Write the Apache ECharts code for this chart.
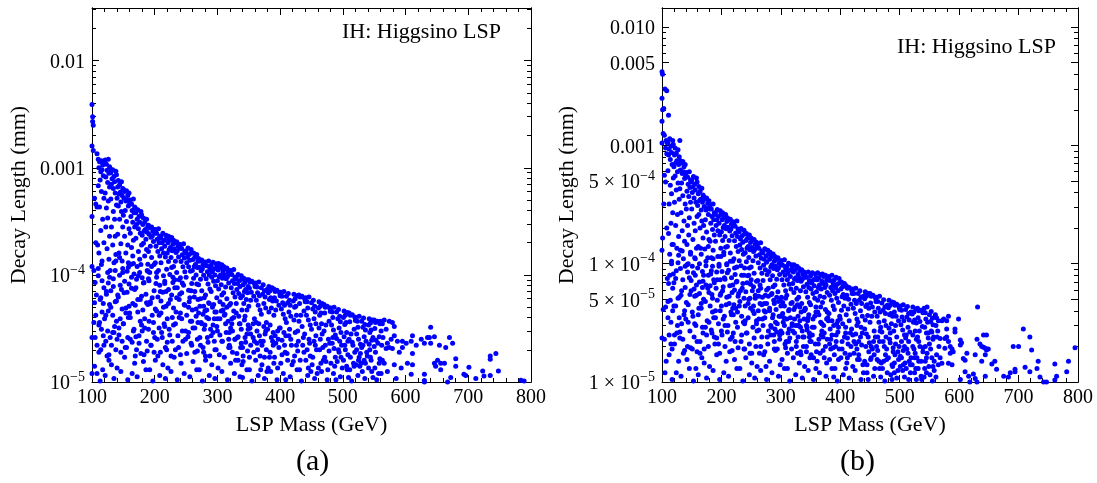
<!DOCTYPE html>
<html><head><meta charset="utf-8">
<script src="https://cdn.jsdelivr.net/npm/echarts@6/dist/echarts.min.js"></script>
<style>html,body{margin:0;padding:0;background:#fff}#c{width:1097px;height:483px}</style>
</head><body><div id="c"></div>
<script>
const massTickValues = [100,200,300,400,500,600,700,800];
const yMajorA = [1e-5,1e-4,1e-3,1e-2];
const yLabelA = ['10^−5','10^−4','0.001','0.01'];
const yMinorA = [2e-5,3e-5,4e-5,5e-5,6e-5,7e-5,8e-5,9e-5,2e-4,3e-4,4e-4,5e-4,6e-4,7e-4,8e-4,9e-4,2e-3,3e-3,4e-3,5e-3,6e-3,7e-3,8e-3,9e-3,2e-2,3e-2];
const yMajorB = [1e-5,5e-5,1e-4,5e-4,1e-3,5e-3,1e-2];
const yLabelB = ['1 × 10^−5','5 × 10^−5','1 × 10^−4','5 × 10^−4','0.001','0.005','0.010'];
const yMinorB = [2e-5,3e-5,4e-5,6e-5,7e-5,8e-5,9e-5,2e-4,3e-4,4e-4,6e-4,7e-4,8e-4,9e-4,2e-3,3e-3,4e-3,6e-3,7e-3,8e-3,9e-3];
const titleText = 'IH: Higgsino LSP';
const xName = 'LSP Mass (GeV)';
const yName = 'Decay Length (mm)';
const captions = ['(a)','(b)'];

// panel (a): [LSP mass (GeV), decay length (mm)]
const panelA = [
[100,3.9e-3],[101,3.0e-3],[101,2.7e-3],[102,2.5e-3],[100,1.6e-3],[102,1.45e-3],[108,1.35e-3],[100,3.5e-4],[104,5.2e-4],[106,4.6e-4],[108,4.3e-4],[106,2.0e-4],[109,1.9e-4],[100,1.2e-4],[103,1.1e-4],[105,8.5e-5],[107,6.5e-5],[104,5.5e-5],[106,4.2e-5],[103,3.6e-5],[105,2.6e-5],[100,2.6e-5],[108,2.2e-5],[104,1.4e-5],[108,1.2e-5],[100,1.2e-5],
[110,1.2e-3],[112,1.14e-3],[115,1.16e-3],[117,1.06e-3],[119,1.1e-3],[111,1.0e-3],[114,9.2e-4],[116,9.6e-4],[118,8.4e-4],[113,7.7e-4],[110,6.8e-4],[115,6.0e-4],[119,5.2e-4],[112,4.3e-4],[117,3.3e-4],[114,2.6e-4],[119,2.0e-4],[111,1.6e-4],[116,1.35e-4],[113,1.02e-5],[117,1.3e-5],[111,1.9e-5],[119,2.2e-5],[115,3.1e-5],[112,3.6e-5],[118,5.4e-5],[114,6.1e-5],[116,8.8e-5],[110,1.15e-4],
[121,1.18e-3],[123,1.08e-3],[126,1.2e-3],[128,1.02e-3],[120,1.09e-3],[124,9.5e-4],[127,8.9e-4],[129,9.8e-4],[122,8.2e-4],[125,7.3e-4],[128,6.6e-4],[121,5.8e-4],[126,4.9e-4],[123,4.2e-4],[125,3.4e-4],[122,2.8e-4],[128,2.3e-4],[124,1.75e-4],[127,1.4e-4],[121,1.15e-5],[127,1.6e-5],[124,1.75e-5],[129,2.6e-5],[122,4.2e-5],[126,4.6e-5],[123,7.0e-5],[128,9.5e-5],[125,1.05e-4],
[130,9.0e-4],[133,9.6e-4],[135,8.3e-4],[138,9.3e-4],[132,7.9e-4],[136,7.4e-4],[139,8.6e-4],[131,7.0e-4],[134,6.4e-4],[137,5.8e-4],[130,5.1e-4],[139,4.5e-4],[134,3.9e-4],[136,3.3e-4],[131,2.8e-4],[137,2.3e-4],[133,1.9e-4],[138,1.55e-4],[135,1.3e-4],[135,1.08e-5],[131,1.45e-5],[138,2.0e-5],[133,2.9e-5],[136,3.3e-5],[130,5.0e-5],[139,5.7e-5],[134,7.8e-5],[137,1.1e-4],
[142,7.6e-4],[144,6.9e-4],[147,7.4e-4],[149,6.4e-4],[141,6.6e-4],[145,5.9e-4],[148,5.5e-4],[140,5.2e-4],[143,5.7e-4],[146,4.8e-4],[142,4.4e-4],[147,3.9e-4],[144,3.3e-4],[149,2.8e-4],[141,2.4e-4],[146,1.95e-4],[143,1.6e-4],[148,1.35e-4],[146,1.25e-5],[140,1.35e-5],[148,2.4e-5],[143,2.75e-5],[145,3.9e-5],[141,6.5e-5],[147,7.3e-5],[144,9.9e-5],[149,1.15e-4],
[150,6.3e-4],[152,6.0e-4],[155,6.1e-4],[157,5.5e-4],[159,5.8e-4],[151,5.2e-4],[154,4.9e-4],[156,5.0e-4],[158,4.4e-4],[153,4.0e-4],[150,3.6e-4],[155,3.15e-4],[159,2.7e-4],[152,2.3e-4],[157,1.9e-4],[154,1.6e-4],[158,1.3e-4],[157,1.05e-5],[152,1.7e-5],[155,2.1e-5],[150,3.5e-5],[158,4.0e-5],[154,4.9e-5],[151,6.8e-5],[159,8.2e-5],[156,1.08e-4],
[161,5.0e-4],[163,4.6e-4],[166,5.1e-4],[168,4.3e-4],[160,4.6e-4],[164,4.0e-4],[167,3.8e-4],[169,4.2e-4],[162,3.5e-4],[165,3.1e-4],[168,2.8e-4],[161,2.45e-4],[166,2.1e-4],[163,1.8e-4],[165,1.5e-4],[162,1.25e-4],[164,1.2e-5],[168,1.5e-5],[161,2.5e-5],[166,3.0e-5],[160,4.4e-5],[169,5.2e-5],[163,7.5e-5],[167,1.02e-4],
[170,3.8e-4],[173,4.05e-4],[175,3.5e-4],[178,3.9e-4],[172,3.3e-4],[176,3.1e-4],[179,3.65e-4],[171,2.95e-4],[174,2.7e-4],[177,2.45e-4],[170,2.2e-4],[179,1.9e-4],[174,1.65e-4],[176,1.4e-4],[172,1.2e-4],[172,1.12e-5],[178,1.85e-5],[175,2.3e-5],[170,2.65e-5],[177,3.7e-5],[173,5.9e-5],[179,6.3e-5],[171,9.1e-5],[176,1.05e-4],
[182,3.4e-4],[184,3.1e-4],[187,3.3e-4],[189,2.85e-4],[181,2.95e-4],[185,2.65e-4],[188,2.5e-4],[180,2.35e-4],[183,2.55e-4],[186,2.15e-4],[182,1.97e-4],[187,1.73e-4],[184,1.5e-4],[189,1.26e-4],[186,1.3e-5],[182,1.55e-5],[188,1.95e-5],[184,3.2e-5],[181,4.7e-5],[187,5.5e-5],[183,8.5e-5],[189,1.08e-4],[180,9.4e-5],
[190,2.9e-4],[192,2.75e-4],[195,2.8e-4],[197,2.55e-4],[199,2.65e-4],[191,2.4e-4],[194,2.25e-4],[196,2.3e-4],[198,2.05e-4],[193,1.85e-4],[190,1.65e-4],[195,1.45e-4],[199,1.25e-4],[192,1.05e-4],[197,1.02e-5],[192,1.3e-5],[199,1.9e-5],[194,2.2e-5],[190,3.1e-5],[198,3.6e-5],[193,5.4e-5],[196,6.1e-5],[191,8.8e-5],
[201,2.65e-4],[203,2.45e-4],[206,2.7e-4],[208,2.3e-4],[200,2.45e-4],[204,2.15e-4],[207,2.0e-4],[209,2.2e-4],[202,1.85e-4],[205,1.65e-4],[208,1.5e-4],[201,1.3e-4],[206,1.1e-4],[203,9.5e-5],[208,1.15e-5],[201,1.6e-5],[205,1.75e-5],[200,2.6e-5],[207,4.2e-5],[203,4.6e-5],[209,7.0e-5],[202,8.3e-5],
[210,2.3e-4],[213,2.45e-4],[215,2.1e-4],[218,2.35e-4],[212,2.0e-4],[216,1.85e-4],[219,2.2e-4],[211,1.75e-4],[214,1.6e-4],[217,1.47e-4],[210,1.3e-4],[219,1.13e-4],[214,9.8e-5],[216,8.3e-5],[217,1.08e-5],[213,1.45e-5],[219,2.0e-5],[211,2.9e-5],[216,3.3e-5],[214,5.0e-5],[210,5.7e-5],[218,7.0e-5],
[222,2.3e-4],[224,2.1e-4],[227,2.23e-4],[229,1.93e-4],[221,2.0e-4],[225,1.8e-4],[228,1.68e-4],[220,1.6e-4],[223,1.72e-4],[226,1.45e-4],[222,1.33e-4],[227,1.17e-4],[224,1.01e-4],[229,8.5e-5],[226,1.25e-5],[221,1.35e-5],[228,2.4e-5],[224,2.75e-5],[220,3.9e-5],[227,6.5e-5],[222,7.3e-5],
[230,2.1e-4],[232,2.0e-4],[235,2.04e-4],[237,1.85e-4],[239,1.93e-4],[231,1.74e-4],[234,1.62e-4],[236,1.68e-4],[238,1.47e-4],[233,1.34e-4],[230,1.2e-4],[235,1.05e-4],[239,9.0e-5],[232,7.6e-5],[236,1.05e-5],[231,1.7e-5],[238,2.1e-5],[233,3.5e-5],[239,4.0e-5],[230,4.9e-5],[235,6.1e-5],
[241,1.91e-4],[243,1.76e-4],[246,1.95e-4],[248,1.66e-4],[240,1.77e-4],[244,1.54e-4],[247,1.44e-4],[249,1.6e-4],[242,1.33e-4],[245,1.19e-4],[248,1.07e-4],[241,9.4e-5],[246,8.0e-5],[243,6.8e-5],[247,1.2e-5],[242,1.5e-5],[249,2.5e-5],[244,3.0e-5],[241,4.4e-5],[248,5.2e-5],
[250,1.67e-4],[253,1.78e-4],[255,1.55e-4],[258,1.73e-4],[252,1.46e-4],[256,1.37e-4],[259,1.6e-4],[251,1.3e-4],[254,1.19e-4],[257,1.08e-4],[250,9.5e-5],[259,8.3e-5],[254,7.2e-5],[256,6.1e-5],[256,1.12e-5],[251,1.85e-5],[258,2.3e-5],[253,2.65e-5],[259,3.7e-5],[254,5.0e-5],
[262,1.6e-4],[264,1.46e-4],[267,1.55e-4],[269,1.34e-4],[261,1.39e-4],[265,1.25e-4],[268,1.17e-4],[260,1.1e-4],[263,1.2e-4],[266,1.0e-4],[262,9.3e-5],[267,8.2e-5],[264,7.0e-5],[269,5.9e-5],[267,1.3e-5],[261,1.55e-5],[268,1.95e-5],[264,3.2e-5],[260,4.7e-5],[266,4.1e-5],
[270,1.42e-4],[272,1.35e-4],[275,1.38e-4],[277,1.25e-4],[279,1.31e-4],[271,1.18e-4],[274,1.09e-4],[276,1.14e-4],[278,9.9e-5],[273,9.1e-5],[270,8.1e-5],[275,7.1e-5],[279,6.1e-5],[272,5.1e-5],[276,1.02e-5],[271,1.3e-5],[278,1.9e-5],[273,2.2e-5],[279,3.1e-5],[274,3.6e-5],[277,4.3e-5],
[281,1.32e-4],[283,1.22e-4],[286,1.35e-4],[288,1.15e-4],[280,1.23e-4],[284,1.07e-4],[287,1.0e-4],[289,1.11e-4],[282,9.2e-5],[285,8.2e-5],[288,7.4e-5],[281,6.5e-5],[286,5.5e-5],[283,4.7e-5],[287,1.15e-5],[281,1.6e-5],[288,1.75e-5],[284,2.6e-5],[280,3.4e-5],[286,3.9e-5],
[290,1.23e-4],[293,1.31e-4],[295,1.14e-4],[298,1.27e-4],[292,1.07e-4],[296,1.0e-4],[299,1.17e-4],[291,9.5e-5],[294,8.7e-5],[297,7.9e-5],[290,7.0e-5],[299,6.1e-5],[294,5.3e-5],[296,4.5e-5],[296,1.08e-5],[291,1.45e-5],[298,2.0e-5],[293,2.9e-5],[299,3.3e-5],[295,3.9e-5],
[302,1.28e-4],[304,1.16e-4],[307,1.24e-4],[309,1.08e-4],[301,1.11e-4],[305,1.0e-4],[308,9.3e-5],[300,8.8e-5],[303,9.6e-5],[306,8.1e-5],[302,7.4e-5],[307,6.5e-5],[304,5.6e-5],[309,4.7e-5],[307,1.25e-5],[301,1.35e-5],[308,2.4e-5],[304,2.75e-5],[300,3.9e-5],
[310,1.2e-4],[312,1.14e-4],[315,1.16e-4],[317,1.06e-4],[319,1.1e-4],[311,1.0e-4],[314,9.2e-5],[316,9.6e-5],[318,8.4e-5],[313,7.7e-5],[310,6.8e-5],[315,6.0e-5],[319,5.2e-5],[312,4.3e-5],[316,1.05e-5],[311,1.7e-5],[318,2.1e-5],[313,3.5e-5],[319,2.9e-5],
[321,1.1e-4],[323,1.01e-4],[326,1.12e-4],[328,9.5e-5],[320,1.02e-4],[324,8.8e-5],[327,8.3e-5],[329,9.2e-5],[322,7.6e-5],[325,6.8e-5],[328,6.2e-5],[321,5.4e-5],[326,4.6e-5],[323,3.9e-5],[327,1.2e-5],[321,1.5e-5],[328,2.5e-5],[324,3.0e-5],[320,2.1e-5],
[330,9.5e-5],[333,1.01e-4],[335,8.8e-5],[338,9.8e-5],[332,8.3e-5],[336,7.8e-5],[339,9.1e-5],[331,7.3e-5],[334,6.7e-5],[337,6.1e-5],[330,5.4e-5],[339,4.7e-5],[334,4.1e-5],[336,3.5e-5],[336,1.12e-5],[331,1.85e-5],[338,2.3e-5],[333,2.65e-5],[339,1.45e-5],
[342,9.3e-5],[344,8.5e-5],[347,9.0e-5],[349,7.8e-5],[341,8.1e-5],[345,7.3e-5],[348,6.8e-5],[340,6.4e-5],[343,7.0e-5],[346,5.9e-5],[342,5.4e-5],[347,4.7e-5],[344,4.1e-5],[349,3.4e-5],[347,1.3e-5],[341,1.55e-5],[348,1.95e-5],[344,2.6e-5],[340,1.1e-5],
[350,9.0e-5],[352,8.6e-5],[355,8.7e-5],[359,8.3e-5],[351,7.5e-5],[354,6.9e-5],[358,6.3e-5],[353,5.8e-5],[350,5.1e-5],[359,3.9e-5],[352,3.2e-5],[355,1.02e-5],[351,1.3e-5],[358,1.9e-5],[353,2.2e-5],[357,2.6e-5],
[361,8.4e-5],[363,7.7e-5],[366,8.6e-5],[360,7.8e-5],[364,6.8e-5],[367,6.4e-5],[362,5.8e-5],[365,5.2e-5],[368,4.7e-5],[366,3.5e-5],[363,3.0e-5],[365,1.15e-5],[361,1.6e-5],[368,1.75e-5],[363,2.3e-5],[369,1.3e-5],
[370,7.6e-5],[373,8.1e-5],[375,7.1e-5],[372,6.6e-5],[376,6.2e-5],[379,7.3e-5],[374,5.4e-5],[377,4.9e-5],[370,4.3e-5],[374,3.3e-5],[376,2.8e-5],[375,1.08e-5],[371,1.45e-5],[378,2.0e-5],[373,2.4e-5],[379,1.25e-5],
[382,7.8e-5],[384,7.1e-5],[387,7.6e-5],[381,6.8e-5],[385,6.1e-5],[388,5.7e-5],[383,5.9e-5],[386,4.9e-5],[382,4.5e-5],[384,3.4e-5],[389,2.9e-5],[385,1.25e-5],[381,1.35e-5],[388,2.4e-5],[383,1.7e-5],
[390,7.4e-5],[392,7.0e-5],[395,7.2e-5],[399,6.8e-5],[391,6.1e-5],[394,5.7e-5],[398,5.2e-5],[393,4.7e-5],[390,4.2e-5],[399,3.2e-5],[392,2.7e-5],[395,1.05e-5],[391,1.7e-5],[398,2.1e-5],[396,1.35e-5],
[401,6.9e-5],[403,6.3e-5],[406,7.0e-5],[400,6.4e-5],[404,5.5e-5],[407,5.2e-5],[402,4.8e-5],[405,4.3e-5],[408,3.9e-5],[406,2.9e-5],[403,2.45e-5],[405,1.2e-5],[401,1.5e-5],[408,1.9e-5],[409,1.05e-5],
[410,6.3e-5],[413,6.7e-5],[415,5.8e-5],[412,5.5e-5],[416,5.2e-5],[414,4.5e-5],[417,4.1e-5],[410,3.6e-5],[414,2.7e-5],[416,1.12e-5],[411,1.85e-5],[418,2.2e-5],[419,1.45e-5],
[422,6.6e-5],[424,6.0e-5],[427,6.4e-5],[421,5.7e-5],[425,5.1e-5],[423,5.0e-5],[426,4.2e-5],[422,3.8e-5],[424,2.9e-5],[427,1.3e-5],[421,1.55e-5],[428,1.95e-5],[429,2.4e-5],
[430,6.5e-5],[432,6.2e-5],[435,6.3e-5],[439,6.0e-5],[431,5.4e-5],[438,4.6e-5],[433,4.2e-5],[430,3.7e-5],[439,2.8e-5],[434,1.02e-5],[431,1.3e-5],[438,1.9e-5],[436,2.2e-5],
[441,6.1e-5],[443,5.6e-5],[446,6.2e-5],[440,5.6e-5],[444,4.9e-5],[442,4.2e-5],[445,3.8e-5],[448,3.4e-5],[446,2.5e-5],[444,1.15e-5],[441,1.6e-5],[448,1.75e-5],[449,1.25e-5],
[450,5.5e-5],[453,5.8e-5],[455,5.1e-5],[452,4.8e-5],[456,4.5e-5],[454,3.9e-5],[457,3.5e-5],[450,3.1e-5],[454,2.4e-5],[455,1.08e-5],[451,1.45e-5],[458,2.0e-5],[459,1.2e-5],
[462,5.6e-5],[464,5.1e-5],[467,5.4e-5],[461,4.9e-5],[465,4.4e-5],[463,4.2e-5],[466,3.5e-5],[462,3.2e-5],[464,2.5e-5],[466,1.25e-5],[461,1.35e-5],[468,2.1e-5],[469,1.6e-5],
[470,5.3e-5],[472,5.0e-5],[475,5.1e-5],[479,4.9e-5],[471,4.4e-5],[478,3.7e-5],[473,3.4e-5],[470,3.0e-5],[479,2.3e-5],[475,1.05e-5],[471,1.7e-5],[478,1.95e-5],[476,1.3e-5],
[481,4.9e-5],[483,4.5e-5],[486,5.0e-5],[480,4.55e-5],[484,4.0e-5],[482,3.4e-5],[485,3.05e-5],[488,2.75e-5],[486,2.05e-5],[485,1.2e-5],[481,1.5e-5],[488,1.7e-5],[489,1.05e-5],
[490,4.5e-5],[493,4.75e-5],[495,4.1e-5],[492,3.9e-5],[496,3.65e-5],[494,3.2e-5],[497,2.9e-5],[490,2.55e-5],[494,1.9e-5],[496,1.12e-5],[491,1.55e-5],[498,2.2e-5],[499,1.35e-5],
[502,4.6e-5],[504,4.2e-5],[507,4.45e-5],[501,4.0e-5],[505,3.6e-5],[503,3.45e-5],[506,2.9e-5],[502,2.65e-5],[504,2.0e-5],[507,1.3e-5],[501,1.6e-5],[508,1.8e-5],[509,1.1e-5],
[510,4.4e-5],[512,4.2e-5],[515,4.25e-5],[519,4.05e-5],[511,3.65e-5],[518,3.1e-5],[513,2.8e-5],[510,2.5e-5],[519,1.9e-5],[514,1.02e-5],[511,1.3e-5],[517,1.5e-5],[516,2.2e-5],
[521,4.0e-5],[523,3.7e-5],[526,4.1e-5],[520,3.75e-5],[524,3.25e-5],[522,2.8e-5],[525,2.5e-5],[528,2.25e-5],[526,1.7e-5],[524,1.15e-5],[521,1.45e-5],[527,1.4e-5],[529,1.5e-5],
[530,3.7e-5],[533,3.95e-5],[535,3.45e-5],[532,3.25e-5],[536,3.05e-5],[534,2.65e-5],[537,2.4e-5],[530,2.1e-5],[534,1.6e-5],[535,1.08e-5],[531,1.25e-5],[538,1.9e-5],
[542,3.9e-5],[544,3.55e-5],[547,3.8e-5],[541,3.4e-5],[545,3.05e-5],[543,2.9e-5],[546,2.45e-5],[542,2.25e-5],[544,1.7e-5],[546,1.25e-5],[541,1.35e-5],[548,1.1e-5],
[550,3.8e-5],[552,3.6e-5],[555,3.7e-5],[559,3.5e-5],[551,3.15e-5],[558,2.65e-5],[553,2.45e-5],[550,2.15e-5],[559,1.65e-5],[554,1.05e-5],[551,1.35e-5],[557,1.2e-5],
[560,3.7e-5],[563,3.5e-5],[561,3.0e-5],[564,2.6e-5],[562,2.2e-5],[563,1.6e-5],[561,1.2e-5],
[566,3.8e-5],[574,3.7e-5],[579,3.6e-5],[569,3.1e-5],[582,3.3e-5],[571,2.3e-5],[577,2.5e-5],[582,2.7e-5],[574,2.1e-5],[587,2.4e-5],[579,2.05e-5],[569,2.05e-5],[595,2.4e-5],[595,2.1e-5],[601,2.3e-5],[609,2.4e-5],[611,2.7e-5],[590,1.9e-5],[611,1.85e-5],[617,2.2e-5],[625,2.5e-5],[630,2.3e-5],[635,2.6e-5],[640,2.3e-5],[638,2.6e-5],[646,2.65e-5],[640,3.25e-5],[654,2.2e-5],[664,2.1e-5],[670,2.6e-5],[675,2.3e-5],[566,1.5e-5],[571,1.25e-5],[582,1.45e-5],[593,1.35e-5],[603,1.5e-5],[611,1.45e-5],[609,1.18e-5],[585,1.08e-5],[630,1.18e-5],[630,1.03e-5],[646,1.5e-5],[651,1.6e-5],[648,1.4e-5],[656,1.5e-5],[662,1.5e-5],[656,1.3e-5],[672,1.1e-5],[680,1.65e-5],[680,1.4e-5],[693,1.18e-5],[696,1.15e-5],[701,1.37e-5],[712,1.08e-5],[723,1.27e-5],[725,1.14e-5],[735,1.75e-5],[735,1.63e-5],[744,1.85e-5],[735,1.15e-5],[748,1.27e-5],[784,1.04e-5],[789,1.02e-5],[667,1.0e-5],[630,1.0e-5],
[114,2.0e-5],[118,2.7e-5],[111,3.4e-5],[116,4.5e-5],[113,5.9e-5],[119,7.6e-5],[110,9.8e-5],[115,1.25e-4],
[127,1.8e-5],[122,2.4e-5],[125,3.0e-5],[120,3.9e-5],[128,5.3e-5],[123,6.6e-5],[126,8.4e-5],[129,1.1e-4],
[131,2.2e-5],[135,2.9e-5],[139,3.7e-5],[133,4.2e-5],[137,5.6e-5],[130,7.1e-5],[134,9.2e-5],[138,1.35e-4],
[146,1.9e-5],[140,2.5e-5],[143,3.2e-5],[148,4.8e-5],[142,6.2e-5],[145,8.0e-5],[149,1.05e-4],[144,1.45e-4],
[153,2.1e-5],[157,2.6e-5],[150,3.5e-5],[154,4.4e-5],[159,5.1e-5],[156,6.9e-5],[152,8.7e-5],[158,1.18e-4],
[169,1.75e-5],[164,2.35e-5],[167,3.1e-5],[161,4.0e-5],[165,5.4e-5],[168,7.3e-5],[163,9.5e-5],[166,1.28e-4],
[171,2.0e-5],[175,2.7e-5],[179,3.4e-5],[173,4.5e-5],[177,5.9e-5],[170,7.6e-5],[174,9.8e-5],[178,1.25e-4],
[183,1.8e-5],[187,2.4e-5],[180,3.0e-5],[184,3.9e-5],[189,5.3e-5],[186,6.6e-5],[182,8.4e-5],[188,1.1e-4],
[194,2.2e-5],[198,2.9e-5],[191,3.7e-5],[196,4.2e-5],[193,5.6e-5],[199,7.1e-5],[190,9.2e-5],[195,1.2e-4],
[209,1.9e-5],[204,2.5e-5],[207,3.2e-5],[201,4.8e-5],[205,6.2e-5],[208,8.0e-5],[203,1.05e-4],
[217,2.1e-5],[212,2.6e-5],[215,3.5e-5],[210,4.4e-5],[218,5.1e-5],[213,6.9e-5],[216,8.7e-5],
[226,1.75e-5],[220,2.35e-5],[223,3.1e-5],[228,4.0e-5],[222,5.4e-5],[225,5.9e-5],[229,9.5e-5],
[233,2.0e-5],[237,2.7e-5],[230,3.4e-5],[234,4.5e-5],[239,5.9e-5],[236,7.6e-5],[232,9.0e-5],
[241,1.8e-5],[245,2.4e-5],[249,3.0e-5],[243,3.9e-5],[247,5.3e-5],[240,6.6e-5],[244,8.4e-5],
[259,2.2e-5],[254,2.9e-5],[257,3.7e-5],[251,4.2e-5],[255,5.6e-5],[258,7.1e-5],
[264,1.9e-5],[268,2.5e-5],[261,3.2e-5],[266,4.8e-5],[263,6.2e-5],[269,3.6e-5],
[277,2.1e-5],[272,2.6e-5],[275,3.5e-5],[270,4.4e-5],[278,5.1e-5],[273,6.0e-5],
[281,1.75e-5],[285,2.35e-5],[289,3.1e-5],[283,4.0e-5],[287,5.4e-5],[280,4.6e-5],
[296,2.0e-5],[290,2.7e-5],[293,3.4e-5],[298,4.5e-5],[292,5.0e-5],[295,2.4e-5],
[303,1.8e-5],[307,2.4e-5],[300,3.0e-5],[304,3.9e-5],[309,5.3e-5],[306,4.6e-5],
[319,2.2e-5],[314,2.9e-5],[317,3.7e-5],[311,4.2e-5],[315,5.0e-5],[318,2.5e-5],
[324,1.9e-5],[328,2.5e-5],[321,3.2e-5],[326,4.0e-5],[323,3.5e-5],[329,1.6e-5],
[337,2.1e-5],[332,2.6e-5],[335,3.5e-5],[330,4.4e-5],[338,3.1e-5],[333,1.6e-5],
[341,1.75e-5],[345,2.35e-5],[349,3.1e-5],[343,3.8e-5],[347,2.8e-5],[340,2.1e-5],
[353,2.8e-5],[357,3.5e-5],[351,1.7e-5],[359,2.4e-5],[364,2.0e-5],[367,2.7e-5],[362,3.6e-5],[369,2.4e-5],
[371,2.2e-5],[377,3.0e-5],[375,1.7e-5],[378,3.6e-5],[384,1.9e-5],[386,2.6e-5],[380,3.1e-5],[389,2.2e-5],
[393,2.3e-5],[396,3.0e-5],[390,1.5e-5],[397,2.5e-5],[403,1.8e-5],[407,2.2e-5],[400,3.2e-5],[409,2.7e-5],
[412,1.6e-5],[417,2.5e-5],[415,3.1e-5],[423,1.75e-5],[426,2.2e-5],[428,3.0e-5],[432,1.6e-5],[437,2.6e-5],[435,3.3e-5],
[443,2.0e-5],[447,2.3e-5],[445,1.35e-5],[452,1.7e-5],[457,2.7e-5],[456,2.2e-5],[463,2.0e-5],[467,2.8e-5],[465,1.5e-5],
[472,2.2e-5],[477,2.5e-5],[473,1.55e-5],[483,2.3e-5],[487,1.4e-5],[484,2.6e-5],[493,2.0e-5],[495,2.4e-5],[497,1.7e-5],
[503,2.2e-5],[506,1.4e-5],[508,2.4e-5],[512,1.7e-5],[515,2.35e-5],[518,1.4e-5],[522,2.0e-5],[525,1.6e-5],[528,1.85e-5],
[532,2.2e-5],[536,1.5e-5],[539,1.75e-5],[543,2.0e-5],[545,1.6e-5],[548,2.6e-5],[552,1.9e-5],[556,2.3e-5],[558,1.5e-5]
];

// panel (b): [LSP mass (GeV), decay length (mm)]
const panelB = [
[100,4.2e-3],[101,4.0e-3],[108,2.9e-3],[105,3.0e-3],[100,2.5e-3],[101,2.0e-3],[103,2.05e-3],[111,1.8e-3],[100,1.6e-3],[102,1.26e-3],[104,1.22e-3],[100,1.05e-3],[107,1.1e-3],[109,1.05e-3],[106,9.5e-4],[108,8.5e-4],[104,5.6e-4],[106,4.9e-4],[108,2.0e-4],[100,1.3e-4],[102,4.1e-5],[106,4.3e-5],[100,2.35e-5],[107,1.5e-5],[105,1.2e-5],[101,1.65e-4],[103,3.2e-4],[109,7.5e-5],[104,2.3e-5],
[110,1.07e-3],[113,1.14e-3],[115,9.9e-4],[118,1.1e-3],[112,9.3e-4],[116,8.7e-4],[119,1.02e-3],[111,8.3e-4],[114,7.6e-4],[117,6.9e-4],[110,6.1e-4],[119,5.3e-4],[114,4.6e-4],[116,3.9e-4],[112,3.2e-4],[118,2.7e-4],[115,2.2e-4],[111,1.8e-4],[117,1.45e-4],[113,1.2e-4],[117,1.05e-5],[112,1.7e-5],[115,2.1e-5],[110,3.5e-5],[118,4.0e-5],[114,4.9e-5],[111,6.8e-5],[119,8.2e-5],[116,1.0e-4],
[122,9.5e-4],[124,8.6e-4],[127,9.2e-4],[129,8.0e-4],[121,8.3e-4],[125,7.4e-4],[128,6.9e-4],[120,6.6e-4],[123,7.1e-4],[126,6.0e-4],[122,5.5e-4],[127,4.8e-4],[124,4.2e-4],[129,3.5e-4],[121,3.3e-4],[126,2.6e-4],[123,2.1e-4],[128,1.7e-4],[125,1.35e-4],[124,1.2e-5],[128,1.5e-5],[121,2.5e-5],[126,3.0e-5],[120,4.4e-5],[129,5.2e-5],[123,7.5e-5],[127,1.02e-4],
[130,1.1e-3],[130,7.5e-4],[132,7.1e-4],[135,7.3e-4],[137,6.6e-4],[139,6.9e-4],[131,6.2e-4],[134,5.8e-4],[136,6.0e-4],[138,5.25e-4],[133,4.8e-4],[130,4.3e-4],[135,3.75e-4],[139,3.2e-4],[132,2.7e-4],[137,2.3e-4],[134,1.9e-4],[138,1.55e-4],[131,1.3e-4],[136,1.1e-4],[132,1.12e-5],[138,1.85e-5],[135,2.3e-5],[130,2.65e-5],[137,3.7e-5],[133,5.9e-5],[139,6.3e-5],[131,9.1e-5],
[141,5.9e-4],[143,5.4e-4],[146,6.0e-4],[148,5.1e-4],[140,5.5e-4],[144,4.7e-4],[147,4.4e-4],[149,4.9e-4],[142,4.1e-4],[145,3.7e-4],[148,3.3e-4],[141,2.9e-4],[146,2.45e-4],[143,2.1e-4],[145,1.75e-4],[142,1.45e-4],[148,1.2e-4],[144,1.0e-4],[146,1.3e-5],[142,1.55e-5],[148,1.95e-5],[144,3.2e-5],[141,4.7e-5],[147,5.5e-5],[143,8.5e-5],[149,7.2e-5],
[150,5.1e-4],[153,5.45e-4],[155,4.7e-4],[158,5.3e-4],[152,4.45e-4],[156,4.2e-4],[159,4.9e-4],[151,4.0e-4],[154,3.6e-4],[157,3.3e-4],[150,2.9e-4],[159,2.5e-4],[154,2.2e-4],[156,1.9e-4],[152,1.6e-4],[158,1.35e-4],[155,1.12e-4],[151,9.5e-5],[153,1.02e-5],[157,1.3e-5],[151,1.9e-5],[159,2.2e-5],[155,3.1e-5],[152,3.6e-5],[158,5.4e-5],[154,6.1e-5],[156,8.0e-5],
[162,4.5e-4],[164,4.1e-4],[167,4.35e-4],[169,3.8e-4],[161,3.9e-4],[165,3.5e-4],[168,3.3e-4],[160,3.1e-4],[163,3.4e-4],[166,2.85e-4],[162,2.6e-4],[167,2.3e-4],[164,2.0e-4],[169,1.65e-4],[161,1.4e-4],[166,1.2e-4],[163,1.0e-4],[168,8.6e-5],[161,1.15e-5],[167,1.6e-5],[164,1.75e-5],[169,2.6e-5],[162,4.2e-5],[166,4.6e-5],[163,7.0e-5],[168,6.3e-5],
[170,3.7e-4],[172,3.5e-4],[175,3.6e-4],[177,3.25e-4],[179,3.4e-4],[171,3.05e-4],[174,2.85e-4],[176,2.95e-4],[178,2.6e-4],[173,2.35e-4],[170,2.1e-4],[175,1.85e-4],[179,1.6e-4],[172,1.33e-4],[177,1.12e-4],[174,9.6e-5],[178,8.0e-5],[175,1.08e-5],[171,1.45e-5],[178,2.0e-5],[173,2.9e-5],[176,3.3e-5],[170,5.0e-5],[179,5.7e-5],[174,6.6e-5],
[181,3.15e-4],[183,2.9e-4],[186,3.2e-4],[188,2.7e-4],[180,2.9e-4],[184,2.5e-4],[187,2.35e-4],[189,2.6e-4],[182,2.2e-4],[185,1.95e-4],[188,1.75e-4],[181,1.55e-4],[186,1.3e-4],[183,1.12e-4],[185,9.5e-5],[182,8.2e-5],[186,1.25e-5],[180,1.35e-5],[188,2.4e-5],[183,2.75e-5],[185,3.9e-5],[181,6.5e-5],[187,7.3e-5],[184,5.5e-5],
[190,2.7e-4],[193,2.87e-4],[195,2.5e-4],[198,2.8e-4],[192,2.35e-4],[196,2.2e-4],[199,2.6e-4],[191,2.1e-4],[194,1.9e-4],[197,1.75e-4],[190,1.55e-4],[199,1.35e-4],[194,1.15e-4],[196,9.9e-5],[192,8.5e-5],[198,7.3e-5],[197,1.05e-5],[192,1.7e-5],[195,2.1e-5],[190,3.5e-5],[198,4.0e-5],[193,4.9e-5],[191,6.2e-5],[199,5.6e-5],
[202,2.7e-4],[204,2.45e-4],[207,2.6e-4],[209,2.27e-4],[201,2.35e-4],[205,2.1e-4],[208,1.97e-4],[200,1.86e-4],[203,2.02e-4],[206,1.7e-4],[202,1.57e-4],[207,1.38e-4],[204,1.19e-4],[209,1.0e-4],[201,8.6e-5],[206,7.4e-5],[203,6.4e-5],[204,1.2e-5],[208,1.5e-5],[201,2.5e-5],[206,3.0e-5],[200,4.4e-5],[209,5.2e-5],[205,3.6e-5],
[210,2.45e-4],[212,2.33e-4],[215,2.38e-4],[217,2.16e-4],[219,2.25e-4],[211,2.03e-4],[214,1.89e-4],[216,1.96e-4],[218,1.72e-4],[213,1.57e-4],[210,1.4e-4],[215,1.23e-4],[219,1.05e-4],[212,8.8e-5],[217,7.6e-5],[214,6.5e-5],[218,5.7e-5],[212,1.12e-5],[218,1.85e-5],[215,2.3e-5],[210,2.65e-5],[217,3.7e-5],[213,4.6e-5],[219,4.2e-5],
[221,2.25e-4],[223,2.07e-4],[226,2.3e-4],[228,1.96e-4],[220,2.09e-4],[224,1.82e-4],[227,1.7e-4],[229,1.89e-4],[222,1.56e-4],[225,1.4e-4],[228,1.27e-4],[221,1.1e-4],[226,9.4e-5],[223,8.1e-5],[225,7.0e-5],[222,6.0e-5],[228,5.3e-5],[226,1.3e-5],[222,1.55e-5],[228,1.95e-5],[224,3.2e-5],[221,4.5e-5],[227,3.9e-5],[220,2.6e-5],
[230,1.86e-4],[233,1.98e-4],[235,1.72e-4],[238,1.92e-4],[232,1.62e-4],[236,1.52e-4],[239,1.78e-4],[231,1.44e-4],[234,1.32e-4],[237,1.2e-4],[230,1.06e-4],[239,9.2e-5],[234,8.0e-5],[236,6.8e-5],[232,5.9e-5],[238,5.1e-5],[236,1.02e-5],[231,1.3e-5],[238,1.9e-5],[233,2.2e-5],[239,3.1e-5],[234,3.6e-5],[230,4.4e-5],
[242,1.8e-4],[244,1.64e-4],[247,1.75e-4],[249,1.51e-4],[241,1.57e-4],[245,1.4e-4],[248,1.31e-4],[240,1.24e-4],[243,1.35e-4],[246,1.13e-4],[242,1.04e-4],[247,9.2e-5],[244,7.9e-5],[249,6.7e-5],[241,5.8e-5],[246,5.0e-5],[247,1.15e-5],[241,1.6e-5],[248,1.75e-5],[243,2.6e-5],[249,4.2e-5],[245,4.6e-5],[240,3.3e-5],
[250,1.65e-4],[252,1.57e-4],[255,1.6e-4],[257,1.45e-4],[259,1.52e-4],[251,1.37e-4],[254,1.27e-4],[256,1.32e-4],[258,1.16e-4],[253,1.06e-4],[250,9.4e-5],[255,8.3e-5],[259,7.1e-5],[252,5.9e-5],[257,5.1e-5],[254,4.4e-5],[256,1.08e-5],[251,1.45e-5],[258,2.0e-5],[253,2.9e-5],[259,3.3e-5],[255,3.8e-5],
[261,1.47e-4],[263,1.35e-4],[266,1.5e-4],[268,1.28e-4],[260,1.37e-4],[264,1.19e-4],[267,1.11e-4],[269,1.23e-4],[262,1.02e-4],[265,9.2e-5],[268,8.3e-5],[261,7.2e-5],[266,6.2e-5],[263,5.3e-5],[265,4.6e-5],[262,4.0e-5],[266,1.25e-5],[260,1.35e-5],[268,2.4e-5],[263,2.75e-5],[269,3.4e-5],[264,1.75e-5],
[270,1.26e-4],[273,1.34e-4],[275,1.16e-4],[278,1.3e-4],[272,1.09e-4],[276,1.03e-4],[279,1.2e-4],[271,9.7e-5],[274,8.9e-5],[277,8.1e-5],[270,7.2e-5],[279,6.2e-5],[274,5.4e-5],[276,4.6e-5],[272,4.0e-5],[276,1.05e-5],[271,1.7e-5],[278,2.1e-5],[273,3.5e-5],[279,2.7e-5],[275,1.35e-5],
[282,1.25e-4],[284,1.14e-4],[287,1.21e-4],[289,1.05e-4],[281,1.09e-4],[285,9.8e-5],[288,9.1e-5],[280,8.6e-5],[283,9.4e-5],[286,7.9e-5],[282,7.3e-5],[287,6.4e-5],[284,5.5e-5],[289,4.6e-5],[281,4.0e-5],[286,3.5e-5],[285,1.2e-5],[281,1.5e-5],[288,2.5e-5],[283,3.0e-5],[289,1.9e-5],
[290,1.15e-4],[292,1.09e-4],[295,1.12e-4],[297,1.01e-4],[299,1.06e-4],[291,9.5e-5],[294,8.9e-5],[296,9.2e-5],[298,8.1e-5],[293,7.4e-5],[290,6.6e-5],[295,5.8e-5],[299,4.9e-5],[292,4.1e-5],[297,3.6e-5],[296,1.12e-5],[291,1.85e-5],[298,2.3e-5],[293,2.65e-5],[299,1.4e-5],[294,3.1e-5],
[301,1.06e-4],[303,9.7e-5],[306,1.08e-4],[308,9.2e-5],[300,9.8e-5],[304,8.5e-5],[307,8.0e-5],[309,8.9e-5],[302,7.3e-5],[305,6.6e-5],[308,5.9e-5],[301,5.2e-5],[306,4.4e-5],[303,3.8e-5],[306,1.3e-5],[302,1.55e-5],[308,1.95e-5],[304,3.2e-5],[300,2.7e-5],[309,2.2e-5],
[310,9.5e-5],[313,1.01e-4],[315,8.8e-5],[318,9.8e-5],[312,8.3e-5],[316,7.8e-5],[319,9.1e-5],[311,7.3e-5],[314,6.7e-5],[317,6.1e-5],[310,5.4e-5],[319,4.7e-5],[314,4.1e-5],[316,3.5e-5],[315,1.02e-5],[311,1.3e-5],[318,1.9e-5],[313,2.2e-5],[319,3.0e-5],[312,2.6e-5],
[322,9.8e-5],[324,8.9e-5],[327,9.5e-5],[329,8.2e-5],[321,8.5e-5],[325,7.6e-5],[328,7.2e-5],[320,6.8e-5],[323,7.4e-5],[326,6.2e-5],[322,5.7e-5],[327,5.0e-5],[324,4.3e-5],[329,3.6e-5],[325,1.15e-5],[321,1.6e-5],[328,1.75e-5],[323,2.6e-5],[329,3.0e-5],[326,2.2e-5],
[330,9.2e-5],[332,8.7e-5],[335,8.9e-5],[337,8.1e-5],[339,8.5e-5],[331,7.6e-5],[334,7.1e-5],[336,7.4e-5],[338,6.4e-5],[333,5.9e-5],[330,5.2e-5],[335,4.6e-5],[339,4.0e-5],[332,3.3e-5],[336,1.08e-5],[331,1.45e-5],[338,2.0e-5],[333,2.9e-5],[339,2.4e-5],[334,1.7e-5],
[341,8.3e-5],[343,7.7e-5],[346,8.5e-5],[348,7.2e-5],[340,7.7e-5],[344,6.7e-5],[347,6.3e-5],[349,7.0e-5],[342,5.8e-5],[345,5.2e-5],[348,4.7e-5],[341,4.1e-5],[346,3.5e-5],[343,3.0e-5],[346,1.25e-5],[340,1.35e-5],[348,2.4e-5],[343,2.0e-5],[349,1.6e-5],[344,2.75e-5],
[350,7.9e-5],[353,8.4e-5],[355,7.3e-5],[358,8.2e-5],[352,6.9e-5],[356,6.5e-5],[359,7.6e-5],[351,6.1e-5],[354,5.6e-5],[357,5.1e-5],[350,4.5e-5],[359,3.9e-5],[354,3.4e-5],[356,2.9e-5],[355,1.05e-5],[351,1.7e-5],[358,2.1e-5],[353,2.5e-5],[359,1.3e-5],
[362,8.4e-5],[364,7.6e-5],[367,8.1e-5],[369,7.1e-5],[361,7.3e-5],[365,6.6e-5],[368,6.1e-5],[360,5.8e-5],[363,6.3e-5],[366,5.3e-5],[362,4.9e-5],[367,4.3e-5],[364,3.7e-5],[369,3.1e-5],[365,1.2e-5],[361,1.5e-5],[368,2.5e-5],[363,2.1e-5],[366,1.75e-5],
[370,8.2e-5],[372,7.8e-5],[375,8.0e-5],[377,7.2e-5],[379,7.5e-5],[371,6.8e-5],[374,6.3e-5],[376,6.6e-5],[378,5.7e-5],[373,5.2e-5],[370,4.7e-5],[375,4.1e-5],[379,3.5e-5],[372,3.0e-5],[376,1.12e-5],[371,1.85e-5],[378,2.3e-5],[373,2.6e-5],[377,1.45e-5],
[381,7.8e-5],[383,7.2e-5],[386,8.0e-5],[388,6.8e-5],[380,7.3e-5],[384,6.3e-5],[387,5.9e-5],[389,6.6e-5],[382,5.4e-5],[385,4.9e-5],[388,4.4e-5],[381,3.8e-5],[386,3.3e-5],[383,2.8e-5],[386,1.3e-5],[382,1.55e-5],[388,1.95e-5],[384,2.3e-5],[389,1.1e-5],
[390,7.3e-5],[393,7.7e-5],[395,6.7e-5],[398,7.5e-5],[392,6.3e-5],[396,5.9e-5],[399,6.9e-5],[391,5.6e-5],[394,5.1e-5],[397,4.7e-5],[390,4.1e-5],[399,3.6e-5],[394,3.1e-5],[396,2.65e-5],[395,1.02e-5],[391,1.3e-5],[398,1.9e-5],[393,2.2e-5],[397,1.55e-5],
[402,7.0e-5],[404,6.4e-5],[407,6.8e-5],[401,6.1e-5],[405,5.5e-5],[408,5.1e-5],[403,5.25e-5],[406,4.4e-5],[402,4.05e-5],[404,3.1e-5],[409,2.6e-5],[405,1.15e-5],[401,1.6e-5],[408,1.75e-5],[403,2.2e-5],[409,1.3e-5],
[410,6.5e-5],[412,6.2e-5],[415,6.3e-5],[419,6.0e-5],[411,5.4e-5],[414,5.0e-5],[418,4.55e-5],[413,4.15e-5],[410,3.7e-5],[419,2.8e-5],[412,2.35e-5],[415,1.08e-5],[411,1.45e-5],[418,2.0e-5],[416,1.7e-5],
[421,6.1e-5],[423,5.6e-5],[426,6.2e-5],[420,5.6e-5],[424,4.9e-5],[427,4.6e-5],[422,4.2e-5],[425,3.8e-5],[428,3.4e-5],[426,2.55e-5],[423,2.2e-5],[425,1.25e-5],[421,1.35e-5],[428,1.9e-5],[429,1.55e-5],
[430,5.6e-5],[433,5.9e-5],[435,5.2e-5],[432,4.9e-5],[436,4.6e-5],[439,5.3e-5],[434,4.0e-5],[437,3.6e-5],[430,3.2e-5],[434,2.4e-5],[436,2.05e-5],[435,1.05e-5],[431,1.7e-5],[438,1.4e-5],[439,1.2e-5],
[442,5.8e-5],[444,5.3e-5],[447,5.6e-5],[441,5.05e-5],[445,4.5e-5],[448,4.2e-5],[443,4.35e-5],[446,3.65e-5],[442,3.35e-5],[444,2.55e-5],[449,2.15e-5],[445,1.2e-5],[441,1.5e-5],[448,1.8e-5],[447,1.05e-5],
[450,5.6e-5],[452,5.3e-5],[455,5.4e-5],[459,5.15e-5],[451,4.65e-5],[454,4.3e-5],[458,3.9e-5],[453,3.6e-5],[450,3.2e-5],[459,2.4e-5],[452,2.0e-5],[456,1.12e-5],[451,1.55e-5],[458,1.3e-5],[457,1.7e-5],
[461,5.2e-5],[463,4.8e-5],[466,5.3e-5],[460,4.8e-5],[464,4.2e-5],[467,3.9e-5],[462,3.6e-5],[465,3.2e-5],[468,2.9e-5],[466,2.2e-5],[463,1.85e-5],[466,1.3e-5],[462,1.55e-5],[468,1.1e-5],[469,1.45e-5],
[470,4.65e-5],[473,4.95e-5],[475,4.3e-5],[472,4.05e-5],[476,3.8e-5],[479,4.45e-5],[474,3.3e-5],[477,3.0e-5],[470,2.65e-5],[474,2.0e-5],[476,1.7e-5],[475,1.02e-5],[471,1.3e-5],[478,1.55e-5],[479,1.2e-5],
[482,4.9e-5],[484,4.45e-5],[487,4.75e-5],[481,4.25e-5],[485,3.8e-5],[488,3.6e-5],[483,3.7e-5],[486,3.1e-5],[482,2.85e-5],[484,2.15e-5],[489,1.8e-5],[485,1.15e-5],[481,1.6e-5],[488,1.35e-5],[487,1.05e-5],
[490,4.7e-5],[492,4.45e-5],[495,4.55e-5],[499,4.3e-5],[491,3.9e-5],[494,3.6e-5],[498,3.3e-5],[493,3.0e-5],[490,2.7e-5],[499,2.0e-5],[492,1.7e-5],[495,1.08e-5],[491,1.45e-5],[497,1.25e-5],[498,1.55e-5],
[501,4.4e-5],[503,4.05e-5],[506,4.5e-5],[500,4.1e-5],[504,3.55e-5],[507,3.3e-5],[502,3.05e-5],[505,2.75e-5],[508,2.5e-5],[506,1.85e-5],[503,1.6e-5],[505,1.25e-5],[501,1.35e-5],[508,1.1e-5],[509,1.45e-5],
[510,4.1e-5],[513,4.35e-5],[515,3.8e-5],[512,3.55e-5],[516,3.35e-5],[519,3.9e-5],[514,2.9e-5],[517,2.65e-5],[510,2.35e-5],[514,1.75e-5],[516,1.5e-5],[515,1.05e-5],[511,1.3e-5],[518,1.2e-5],[519,1.6e-5],
[522,4.3e-5],[524,3.9e-5],[527,4.15e-5],[521,3.75e-5],[525,3.35e-5],[528,3.15e-5],[523,3.2e-5],[526,2.7e-5],[522,2.5e-5],[524,1.9e-5],[529,1.6e-5],[525,1.2e-5],[521,1.4e-5],[528,1.05e-5],[527,1.3e-5],
[530,4.2e-5],[532,4.0e-5],[535,4.05e-5],[539,3.85e-5],[531,3.5e-5],[534,3.25e-5],[538,2.95e-5],[533,2.7e-5],[530,2.4e-5],[539,1.8e-5],[532,1.5e-5],[536,1.12e-5],[531,1.3e-5],[537,1.05e-5],
[541,4.2e-5],[543,3.85e-5],[546,4.3e-5],[540,3.9e-5],[544,3.4e-5],[547,3.2e-5],[542,2.9e-5],[545,2.6e-5],[548,2.35e-5],[546,1.75e-5],[543,1.5e-5],[545,1.2e-5],[541,1.1e-5],[549,1.35e-5],
[550,3.7e-5],[553,3.95e-5],[555,3.45e-5],[552,3.25e-5],[556,3.05e-5],[559,3.55e-5],[554,2.65e-5],[557,2.4e-5],[550,2.1e-5],[554,1.6e-5],[556,1.35e-5],[555,1.02e-5],[551,1.15e-5],[558,1.25e-5],
[560,3.7e-5],[562,3.5e-5],[565,3.3e-5],[561,3.0e-5],[564,2.7e-5],[563,2.4e-5],[566,2.0e-5],[562,1.7e-5],[565,1.4e-5],[561,1.1e-5],
[568,2.33e-5],[576,2.33e-5],[571,3.3e-5],[574,3.4e-5],[579,3.3e-5],[582,3.6e-5],[579,2.8e-5],[579,2.4e-5],[582,2.2e-5],[585,2.0e-5],[588,1.9e-5],[590,1.8e-5],[585,1.75e-5],[576,1.93e-5],[593,2.8e-5],[593,2.65e-5],[599,3.4e-5],[568,1.6e-5],[571,1.44e-5],[582,1.44e-5],[588,1.4e-5],[602,2.26e-5],[604,2.15e-5],[602,2.05e-5],[607,1.58e-5],[610,1.53e-5],[613,1.75e-5],[610,1.22e-5],[616,1.12e-5],[602,1.05e-5],[618,1.0e-5],[624,1.17e-5],[627,1.07e-5],[630,1.0e-5],[627,1.7e-5],[630,2.3e-5],[635,2.1e-5],[638,2.0e-5],[641,1.97e-5],[644,1.93e-5],[641,2.5e-5],[646,2.5e-5],[644,1.7e-5],[646,1.86e-5],[649,1.9e-5],[638,1.5e-5],[644,1.12e-5],[631,4.3e-5],[655,1.42e-5],[660,1.5e-5],[663,1.28e-5],[675,1.12e-5],[683,1.1e-5],[686,1.2e-5],[691,2.0e-5],[694,1.28e-5],[694,1.22e-5],[700,2.0e-5],[708,2.8e-5],[711,1.33e-5],[719,2.4e-5],[719,1.22e-5],[722,1.86e-5],[731,1.3e-5],[733,1.5e-5],[736,1.1e-5],[742,1.0e-5],[747,1.0e-5],[761,1.42e-5],[761,1.04e-5],[764,1.12e-5],[781,1.22e-5],[784,1.5e-5],[795,1.95e-5],
[117,1.9e-5],[112,2.5e-5],[115,3.2e-5],[110,4.8e-5],[118,6.2e-5],[113,8.0e-5],[116,1.05e-4],[119,1.45e-4],
[121,2.1e-5],[125,2.6e-5],[129,3.5e-5],[123,4.4e-5],[127,5.1e-5],[120,6.9e-5],[124,8.7e-5],[128,1.18e-4],
[136,1.75e-5],[130,2.35e-5],[133,3.1e-5],[138,4.0e-5],[132,5.4e-5],[135,7.3e-5],[139,9.5e-5],[134,1.28e-4],
[143,2.0e-5],[147,2.7e-5],[140,3.4e-5],[144,4.5e-5],[149,5.9e-5],[146,7.6e-5],[142,9.8e-5],[148,1.25e-4],
[159,1.8e-5],[154,2.4e-5],[157,3.0e-5],[151,3.9e-5],[155,5.3e-5],[158,6.6e-5],[153,8.4e-5],[156,1.1e-4],
[164,2.2e-5],[168,2.9e-5],[161,3.7e-5],[166,4.2e-5],[163,5.6e-5],[169,7.1e-5],[160,9.2e-5],[165,1.35e-4],
[171,1.9e-5],[175,2.5e-5],[179,3.2e-5],[173,4.8e-5],[177,6.2e-5],[170,8.0e-5],[174,1.05e-4],[178,1.4e-4],
[189,2.1e-5],[184,2.6e-5],[187,3.5e-5],[181,4.4e-5],[185,5.1e-5],[188,6.9e-5],[183,8.7e-5],[186,1.1e-4],
[197,1.75e-5],[192,2.35e-5],[195,3.1e-5],[190,4.0e-5],[198,5.4e-5],[193,7.3e-5],[196,9.5e-5],[199,1.15e-4],
[206,2.0e-5],[200,2.7e-5],[203,3.4e-5],[208,4.5e-5],[202,5.9e-5],[205,7.6e-5],[209,9.8e-5],[204,1.25e-4],
[214,1.8e-5],[218,2.4e-5],[211,3.0e-5],[216,3.9e-5],[213,5.3e-5],[219,6.6e-5],[210,8.4e-5],[215,1.05e-4],
[223,2.2e-5],[227,2.9e-5],[220,3.7e-5],[224,4.2e-5],[229,5.6e-5],[226,7.1e-5],[222,9.2e-5],
[239,1.9e-5],[234,2.5e-5],[237,3.2e-5],[231,4.8e-5],[235,6.2e-5],[238,8.0e-5],[233,9.6e-5],
[247,2.1e-5],[242,2.6e-5],[245,3.5e-5],[240,4.4e-5],[248,5.1e-5],[243,6.9e-5],[246,8.0e-5],
[251,1.75e-5],[255,2.35e-5],[259,3.1e-5],[253,4.0e-5],[257,5.4e-5],[250,7.3e-5],[254,6.4e-5],
[266,2.0e-5],[260,2.7e-5],[263,3.4e-5],[268,4.5e-5],[262,5.9e-5],[265,6.6e-5],[269,5.2e-5],
[273,1.8e-5],[277,2.4e-5],[270,3.0e-5],[274,3.9e-5],[279,5.3e-5],[276,6.0e-5],[272,4.6e-5],
[289,2.2e-5],[284,2.9e-5],[287,3.7e-5],[281,4.2e-5],[285,5.6e-5],[288,4.9e-5],[283,2.5e-5],
[294,1.9e-5],[298,2.5e-5],[291,3.2e-5],[296,4.8e-5],[293,5.2e-5],[299,3.6e-5],[290,2.8e-5],
[307,2.1e-5],[302,2.6e-5],[305,3.5e-5],[300,4.4e-5],[308,5.1e-5],[303,4.7e-5],[306,3.0e-5],
[311,1.75e-5],[315,2.35e-5],[319,3.1e-5],[313,4.0e-5],[317,4.6e-5],[310,3.4e-5],[314,2.8e-5],
[326,2.0e-5],[320,2.7e-5],[323,3.4e-5],[328,4.5e-5],[322,4.1e-5],[325,3.0e-5],[329,2.4e-5],
[333,1.8e-5],[337,2.4e-5],[330,3.0e-5],[334,3.9e-5],[339,3.4e-5],[336,2.7e-5],[332,4.3e-5],
[349,2.2e-5],[344,2.9e-5],[347,3.7e-5],[341,4.2e-5],[345,3.3e-5],[348,2.6e-5],[343,1.8e-5],
[353,2.9e-5],[357,3.6e-5],[351,2.2e-5],[359,4.3e-5],[355,1.6e-5],[364,2.3e-5],[367,3.2e-5],[362,3.9e-5],[369,2.7e-5],[360,1.8e-5],
[371,2.4e-5],[377,3.4e-5],[375,2.0e-5],[378,3.9e-5],[373,1.6e-5],[384,1.9e-5],[386,2.5e-5],[380,3.3e-5],[389,3.0e-5],[382,2.1e-5],
[393,2.5e-5],[396,3.3e-5],[390,1.7e-5],[397,2.9e-5],[392,2.0e-5],[403,1.9e-5],[407,2.4e-5],[400,3.4e-5],[409,2.9e-5],
[412,1.6e-5],[417,2.6e-5],[415,3.3e-5],[413,2.1e-5],[423,1.75e-5],[426,2.1e-5],[428,3.0e-5],[421,2.5e-5],
[432,1.55e-5],[437,2.6e-5],[435,2.9e-5],[431,2.2e-5],[443,2.0e-5],[447,2.4e-5],[445,1.4e-5],[441,2.8e-5],
[452,1.6e-5],[457,2.7e-5],[456,2.2e-5],[454,1.9e-5],[463,2.4e-5],[467,2.7e-5],[465,1.5e-5],[461,2.0e-5],
[472,2.2e-5],[477,2.4e-5],[473,1.5e-5],[478,1.9e-5],[483,2.3e-5],[487,1.4e-5],[484,2.6e-5],[489,1.95e-5],
[493,2.1e-5],[495,2.4e-5],[497,1.8e-5],[491,1.2e-5],[503,2.2e-5],[506,1.4e-5],[508,2.0e-5],[501,1.65e-5],
[512,1.9e-5],[515,2.2e-5],[518,1.4e-5],[511,2.5e-5],[522,2.0e-5],[525,1.6e-5],[528,2.3e-5],[526,1.75e-5],
[532,2.2e-5],[536,1.5e-5],[539,1.95e-5],[534,2.0e-5],[543,2.0e-5],[545,1.6e-5],[548,2.6e-5],[542,1.3e-5],
[552,1.9e-5],[556,2.3e-5],[558,1.5e-5],[553,2.7e-5]
];

const FONT = '"Liberation Serif", "Times New Roman", serif';
const chart = echarts.init(document.getElementById('c'), null, {renderer: 'canvas'});

function richLabel(majors, labels) {
  return function (v) {
    const i = majors.findIndex(m => Math.abs(Math.log10(m) - Math.log10(v)) < 1e-6);
    if (i < 0) return '';
    const s = labels[i];
    const k = s.indexOf('^');
    return k < 0 ? '{b|' + s + '}' : '{b|' + s.slice(0, k) + '}{s|' + s.slice(k + 1) + '}';
  };
}
const rich = {
  b: {fontFamily: FONT, fontSize: 20, color: '#000', lineHeight: 24, verticalAlign: 'bottom'},
  s: {fontFamily: FONT, fontSize: 14, color: '#000', lineHeight: 14, verticalAlign: 'top'}
};
const black = {color: '#000', width: 1};

function makeX(gridIndex) {
  const base = {
    type: 'value', gridIndex: gridIndex, min: massTickValues[0], max: massTickValues[massTickValues.length - 1],
    interval: 100, splitLine: {show: false}, axisLine: {show: true, lineStyle: black},
    axisTick: {show: true, inside: true, length: 7, lineStyle: black},
    minorTick: {show: true, splitNumber: 5, length: 4, lineStyle: black}
  };
  return [
    Object.assign({}, base, {position: 'bottom',
      axisLabel: {show: true, margin: 6, color: '#000', fontFamily: FONT, fontSize: 20},
      name: xName, nameLocation: 'middle', nameGap: 32,
      nameTextStyle: {fontFamily: FONT, fontSize: 22, color: '#000'}}),
    Object.assign({}, base, {position: 'top', axisLabel: {show: false}})
  ];
}
function makeY(gridIndex, max, majors, labels, minors, nameGap) {
  const base = {type: 'log', logBase: 10, gridIndex: gridIndex, min: 1e-5, max: max,
    splitLine: {show: false}, minorTick: {show: false}, axisLine: {show: true, lineStyle: black}};
  return [
    Object.assign({}, base, {position: 'left',
      axisTick: {show: true, inside: true, length: 7, customValues: majors, lineStyle: black},
      axisLabel: {show: true, customValues: majors, formatter: richLabel(majors, labels), margin: 7, rich: rich},
      name: yName, nameLocation: 'middle', nameGap: nameGap,
      nameTextStyle: {fontFamily: FONT, fontSize: 22, color: '#000'}}),
    Object.assign({}, base, {position: 'left',
      axisTick: {show: true, inside: true, length: 4, customValues: minors, lineStyle: black},
      axisLabel: {show: false}}),
    Object.assign({}, base, {position: 'right',
      axisTick: {show: true, inside: true, length: 7, customValues: majors, lineStyle: black},
      axisLabel: {show: false}}),
    Object.assign({}, base, {position: 'right',
      axisTick: {show: true, inside: true, length: 4, customValues: minors, lineStyle: black},
      axisLabel: {show: false}})
  ];
}

const option = {
  animation: false,
  backgroundColor: '#fff',
  grid: [
    {left: 92, top: 8, width: 439, height: 374, containLabel: false},
    {left: 662, top: 8, width: 416, height: 374, containLabel: false}
  ],
  xAxis: makeX(0).concat(makeX(1)),
  yAxis: makeY(0, 0.031, yMajorA, yLabelA, yMinorA, 62).concat(makeY(1, 0.0145, yMajorB, yLabelB, yMinorB, 84)),
  series: [
    {type: 'scatter', name: '(a)', xAxisIndex: 0, yAxisIndex: 0, data: panelA, symbol: 'circle', symbolSize: 5,
     itemStyle: {color: '#0000ff', opacity: 1}, clip: true, silent: true},
    {type: 'scatter', name: '(b)', xAxisIndex: 2, yAxisIndex: 4, data: panelB, symbol: 'circle', symbolSize: 5,
     itemStyle: {color: '#0000ff', opacity: 1}, clip: true, silent: true}
  ],
  graphic: [
    {type: 'text', left: 342, top: 21, style: {text: titleText, font: '22px ' + FONT, fill: '#000'}},
    {type: 'text', left: 897, top: 36, style: {text: titleText, font: '22px ' + FONT, fill: '#000'}},
    {type: 'text', left: 296, top: 447, style: {text: captions[0], font: '30px ' + FONT, fill: '#000'}},
    {type: 'text', left: 840, top: 447, style: {text: captions[1], font: '30px ' + FONT, fill: '#000'}}
  ]
};
chart.setOption(option);
</script>
</body></html>
